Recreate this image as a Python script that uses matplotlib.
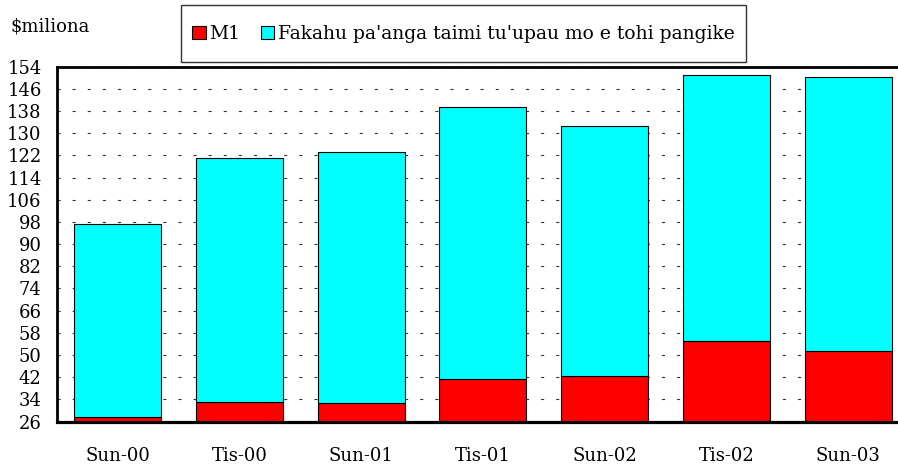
import numpy as np
import matplotlib.pyplot as plt
from matplotlib.patches import Patch, Rectangle

# Periode
kategorien = ['Sun-00', 'Tis-00', 'Sun-01', 'Tis-01', 'Sun-02', 'Tis-02', 'Sun-03']
# M1 ($miliona)
m1 = [27.7, 33.0, 32.8, 41.5, 42.3, 55.1, 51.4]
# Fakahu pa'anga taimi tu'upau mo e tohi pangike
fakahu = [69.5, 88.0, 90.3, 98.1, 90.2, 96.0, 98.9]
yticks = np.arange(26, 155, 8)

plt.rcParams['font.family'] = ['DejaVu Serif']
plt.rcParams['font.size'] = 13

fig = plt.figure(figsize=(8.98, 4.69), dpi=100)
ax = fig.add_axes([57 / 898, 47.5 / 469, 841 / 898, 354.8 / 469])

xs = np.arange(len(kategorien))
ax.bar(xs, m1, width=0.715, color='#ff0000', edgecolor='black', linewidth=0.8, zorder=2)
ax.bar(xs, fakahu, width=0.715, bottom=m1, color='#00ffff', edgecolor='black', linewidth=0.8, zorder=2)

ax.set_xlim(-0.5, -0.5 + 841 / 121.7)
ax.set_ylim(26, 154)
ax.set_yticks(yticks)
ax.set_xticks(xs)
ax.set_xticklabels(kategorien)
ax.tick_params(axis='both', length=0)
ax.tick_params(axis='y', pad=11)
ax.tick_params(axis='x', pad=18)

ax.yaxis.grid(True, color='#333333', linewidth=0.8, linestyle=(0, (2.8, 10.8)), zorder=0)
ax.set_axisbelow(True)

for s in ['left', 'top']:
    ax.spines[s].set_linewidth(2)
ax.spines['bottom'].set_linewidth(2.3)
ax.spines['right'].set_visible(False)

fig.text(10 / 898, 1 - 26 / 469, r'\$miliona', ha='left', va='center')

# Rahmen der Legende
fig.patches.append(Rectangle((181 / 898, 1 - 62 / 469), 565 / 898, 57 / 469,
                             transform=fig.transFigure, facecolor='white',
                             edgecolor='#333333', linewidth=1, zorder=1))

handles = [Patch(facecolor='#ff0000', edgecolor='black', linewidth=0.8, label='M1'),
           Patch(facecolor='#00ffff', edgecolor='black', linewidth=0.8,
                 label="Fakahu pa'anga taimi tu'upau mo e tohi pangike")]
leg = fig.legend(handles=handles, loc='center', ncol=2,
                 bbox_to_anchor=(463.5 / 898, 1 - 34 / 469),
                 prop={'size': 13.5}, frameon=False,
                 handlelength=0.7, handleheight=0.7, handletextpad=0.2,
                 columnspacing=1.1, borderpad=0)
leg.set_zorder(2)

plt.savefig('out.png')
